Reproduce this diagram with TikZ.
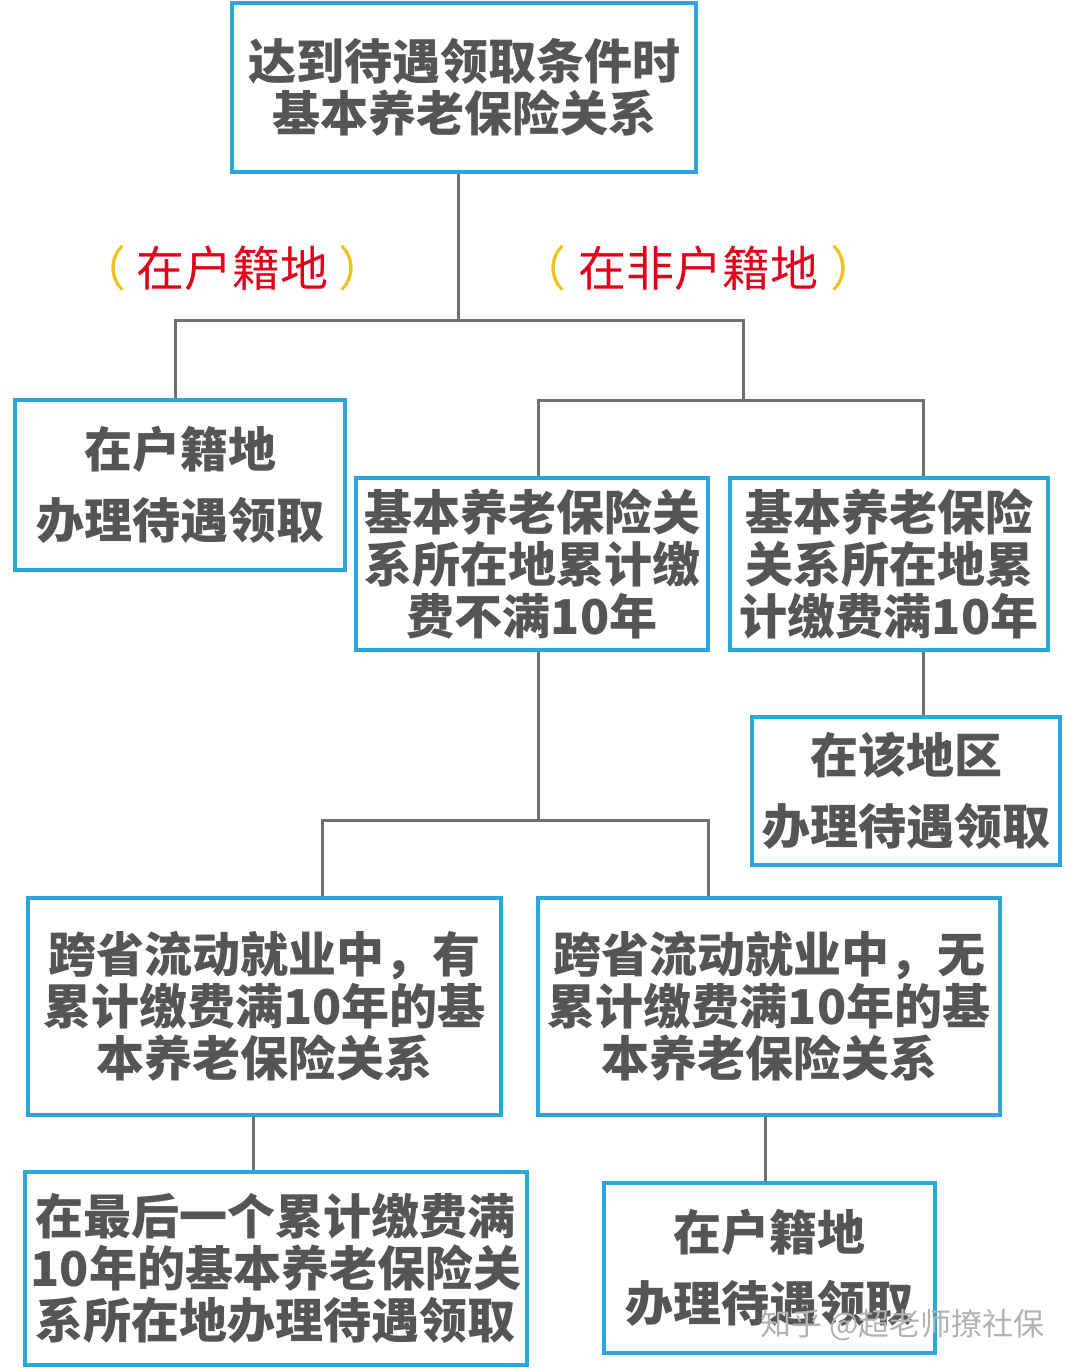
\documentclass[tikz,border=0pt]{standalone}
\usepackage{fontspec}
\newfontfamily\cjk{Noto Sans CJK SC}
\definecolor{boxblue}{HTML}{2AA6DB}
\definecolor{txtgray}{HTML}{555555}
\definecolor{linegray}{HTML}{707070}
\definecolor{lblred}{HTML}{E2001A}
\definecolor{pgold}{HTML}{F2C21B}
\tikzset{
  box/.style={draw=boxblue, line width=4pt, fill=white, inner sep=0pt, align=center,
    text=txtgray},
  tight/.style={font=\cjk\bfseries\fontsize{48}{52}\selectfont},
  loose/.style={font=\cjk\bfseries\fontsize{48}{71}\selectfont},
  conn/.style={draw=linegray, line width=3pt},
  lbl/.style={inner sep=0pt, text=lblred, font=\cjk\fontsize{48}{52}\selectfont}
}
\begin{document}
\begin{tikzpicture}[x=1pt,y=-1pt]
\fill[white] (0,0) rectangle (1080,1368);
\useasboundingbox (0,0) rectangle (1080,1368);

% junction coordinates
\coordinate (j1) at (458,320);
\coordinate (j1l) at (175,320);
\coordinate (j1r) at (743,320);
\coordinate (j2) at (743,400);
\coordinate (j2l) at (538,400);
\coordinate (j2r) at (923,400);
\coordinate (j3) at (538,820);
\coordinate (j3l) at (322,820);
\coordinate (j3r) at (708,820);
\coordinate (k1) at (253,1140);
\coordinate (k2) at (765,1150);
\coordinate (ts) at (464,172);

% connectors (drawn first, boxes on top)
\draw[conn] (j1 |- ts) -- (j1);
\draw[conn] (j1l |- 0,400) -- (j1l) -- (j1r) -- (j2);
\draw[conn] (j2l |- 0,478) -- (j2l) -- (j2r) -- (j2r |- 0,478);
\draw[conn] (j2r |- 0,650) -- (j2r |- 0,717);
\draw[conn] (j3 |- 0,650) -- (j3);
\draw[conn] (j3l |- 0,898) -- (j3l) -- (j3r) -- (j3r |- 0,898);
\draw[conn] (k1 |- 0,1115) -- (k1 |- 0,1172);
\draw[conn] (k2 |- 0,1115) -- (k2 |- 0,1183);

% boxes
\node[box, tight, minimum width=464pt, minimum height=169pt] (top) at (464,87.5)
  {达到待遇领取条件时\\基本养老保险关系};
\node[box, loose, minimum width=330pt, minimum height=170pt] (left) at (180,485)
  {在户籍地\\办理待遇领取};
\node[box, tight, minimum width=352pt, minimum height=172pt] (mid) at (532,564)
  {基本养老保险关\\系所在地累计缴\\费不满10年};
\node[box, tight, minimum width=318pt, minimum height=172pt] (right) at (889,564)
  {基本养老保险\\关系所在地累\\计缴费满10年};
\node[box, loose, minimum width=308pt, minimum height=148pt] (area) at (906,791)
  {在该地区\\办理待遇领取};
\node[box, tight, minimum width=473pt, minimum height=217pt] (bl) at (264.5,1006.5)
  {跨省流动就业中，有\\累计缴费满10年的基\\本养老保险关系};
\node[box, tight, minimum width=462pt, minimum height=217pt] (br) at (769,1006.5)
  {跨省流动就业中，无\\累计缴费满10年的基\\本养老保险关系};
\node[box, tight, minimum width=502pt, minimum height=193pt] (bll) at (276,1268.5)
  {在最后一个累计缴费满\\10年的基本养老保险关\\系所在地办理待遇领取};
\node[box, loose, minimum width=331pt, minimum height=170pt] (brr) at (769.5,1268)
  {在户籍地\\办理待遇领取};

% labels
\node[lbl] (lab1) at (232,268) {{\color{pgold}（}\hspace{10pt}在户籍地\hspace{10pt}{\color{pgold}）}};
\node[lbl] (lab2) at (698,268) {{\color{pgold}（}\hspace{12pt}在非户籍地\hspace{12pt}{\color{pgold}）}};

% watermark
\node[inner sep=0pt, anchor=west, text=black!30, font=\cjk\fontsize{31}{34}\selectfont]
  (wm) at (760,1325) {知乎 @超老师撩社保};
\end{tikzpicture}
\end{document}
